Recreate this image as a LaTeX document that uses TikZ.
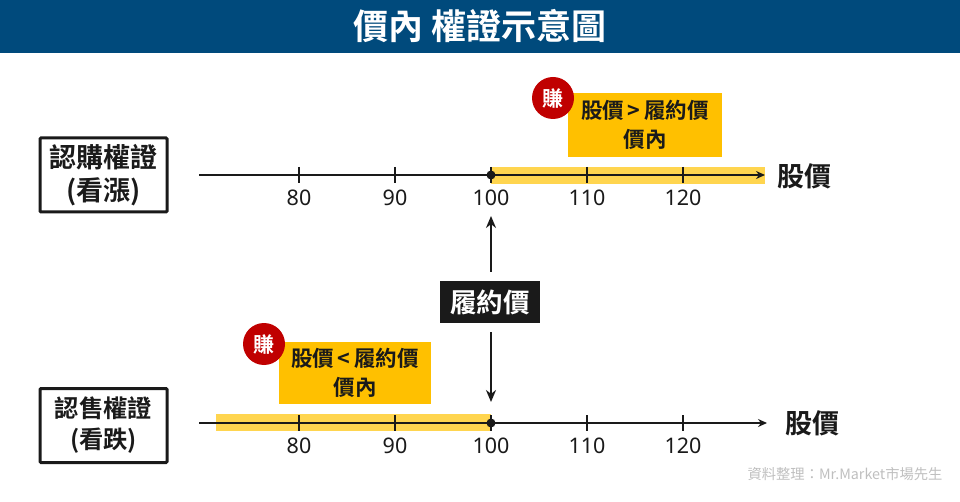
\documentclass[tikz,border=0pt]{standalone}
\usepackage{fontspec}
\setmainfont{Noto Sans CJK TC}[BoldFont={* Bold}]
\newfontfamily\numfont{Noto Sans}
\usetikzlibrary{positioning,arrows.meta,shapes.geometric}
\definecolor{titleblue}{HTML}{004A7C}
\definecolor{amber}{HTML}{FFC000}
\definecolor{paleamber}{HTML}{FFD54F}
\definecolor{inkblack}{HTML}{1A1A1A}
\definecolor{earnred}{HTML}{C00000}
\tikzstyle{titlebar} = [rectangle, minimum width=960pt, minimum height=53pt, inner sep=0pt, fill=titleblue, text=white, font=\bfseries\fontsize{35}{38}\selectfont]
\tikzstyle{warrant} = [rectangle, minimum width=127pt, minimum height=74pt, inner sep=0pt, draw=inkblack, line width=3pt, rounded corners=1pt, text centered, text width=127pt, text=inkblack, font=\bfseries\fontsize{27}{33}\selectfont]
\tikzstyle{warrantlow} = [warrant, font=\bfseries\fontsize{24.3}{31}\selectfont]
\tikzstyle{note} = [rectangle, inner sep=0pt, fill=amber, text centered, text width=150pt, text=inkblack, font=\bfseries\fontsize{21.5}{29}\selectfont]
\tikzstyle{earn} = [circle, minimum size=42pt, inner sep=0pt, fill=earnred, text=white, font=\bfseries\fontsize{21}{22}\selectfont]
\tikzstyle{strike} = [rectangle, minimum width=100pt, minimum height=42pt, inner sep=0pt, fill=inkblack, text=white, font=\bfseries\fontsize{26.5}{28}\selectfont]
\tikzstyle{band} = [rectangle, minimum height=17pt, inner sep=0pt, fill=paleamber]
\tikzstyle{axisname} = [text=inkblack, font=\bfseries\fontsize{27}{30}\selectfont]
\tikzstyle{ticklabel} = [text=inkblack, font=\numfont\fontsize{21.5}{24}\selectfont]
\tikzstyle{dot} = [circle, minimum size=9pt, inner sep=0pt, fill=inkblack]
\tikzstyle{axisarrow} = [line width=2.2pt, color=inkblack, -{Stealth[length=9pt,width=8pt]}]
\tikzstyle{arrow} = [line width=2.2pt, color=inkblack, -{Stealth[length=12pt,width=10pt]}]
\tikzstyle{tick} = [line width=2.4pt, color=inkblack]
\begin{document}
\begin{tikzpicture}[x=1pt,y=-1pt]
\useasboundingbox (0,0) rectangle (960,502);
\node (title) [titlebar] at (480,26.5) {價內 權證示意圖};
% upper axis
\node (callbox) [warrant] at (103.5,175) {認購權證\\(看漲)};
\node (callband) [band,minimum width=274pt] at (628,175.5) {};
\coordinate (callstart) at (199,175);
\coordinate (callend) at (765,175);
\draw [axisarrow] (callstart) -- (callend);
\node (callname) [axisname] at (804,176) {股價};
\node (callnote) [note,minimum width=154pt,minimum height=64pt] at (645,125) {\rule{0pt}{2pt}股價\,>\,履約價\\價內};
\node (callearn) [earn] at (553,98) {賺};
% lower axis
\node (putbox) [warrantlow] at (103.5,425.5) {認售權證\\(看跌)};
\node (putband) [band,minimum width=275pt] at (353.5,422.5) {};
\coordinate (putstart) at (199,423);
\coordinate (putend) at (767,423);
\draw [axisarrow] (putstart) -- (putend);
\node (putname) [axisname] at (812,423) {股價};
\node (putnote) [note,minimum width=152pt,minimum height=62pt] at (355,373) {股價\,<\,履約價\\價內};
\node (putearn) [earn] at (264,344) {賺};
% ticks
\foreach \val/\xpos in {80/299,90/395,100/491,110/587,120/683} {
  \coordinate (calltop\val) at (\xpos,167);
  \coordinate (callbot\val) at (\xpos,183);
  \coordinate (puttop\val) at (\xpos,415);
  \coordinate (putbot\val) at (\xpos,431);
  \draw [tick] (calltop\val) -- (callbot\val);
  \draw [tick] (puttop\val) -- (putbot\val);
  \node (calllabel\val) [ticklabel] at (\xpos,198) {\val};
  \node (putlabel\val) [ticklabel] at (\xpos,446) {\val};
}
\node (calldot) [dot] at (491,175) {};
\node (putdot) [dot] at (491,423) {};
% strike price
\node (strikebox) [strike] at (490,302) {履約價};
\coordinate (uptip) at (491,216);
\coordinate (uptail) at (491,272);
\coordinate (downtail) at (491,332);
\coordinate (downtip) at (491,402);
\draw [arrow] (uptail) -- (uptip);
\draw [arrow] (downtail) -- (downtip);
\node (source) [text=black!25,font=\fontsize{14.3}{16}\selectfont,anchor=east] at (946,474) {資料整理：Mr.Market市場先生};
\end{tikzpicture}
\end{document}
